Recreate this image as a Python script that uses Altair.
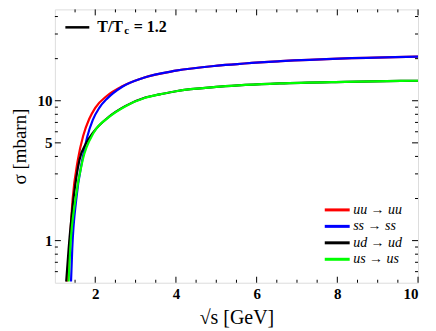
import altair as alt
import pandas as pd

# ---- data ----
processes = ["uu → uu", "ss → ss", "ud → ud", "us → us"]
colors = ["#ff0000", "#0000ff", "#000000", "#00ff00"]

uu_x = [1.30, 1.36, 1.44, 1.57, 1.70, 1.85, 2.0, 2.3, 2.67, 3.2, 4.0, 5.1, 6.6, 8.2, 10.0]
uu_y = [0.51, 0.87, 1.98, 3.79, 5.6, 7.4, 8.9, 10.9, 12.7, 14.6, 16.4, 17.9, 19.2, 20.1, 20.7]

ss_x = [1.40, 1.43, 1.53, 1.68, 1.80, 1.94, 2.1, 2.3, 2.67, 3.2, 4.0, 5.1, 6.6, 8.2, 10.0]
ss_y = [0.51, 0.87, 1.98, 3.79, 5.5, 7.3, 8.9, 10.4, 12.6, 14.6, 16.4, 17.9, 19.2, 20.1, 20.7]

ud_x = [1.28, 1.34, 1.46, 1.61, 1.78, 1.96, 2.33, 2.74, 3.24, 3.6, 4.0, 5.09, 6.57, 8.2, 10.0]
ud_y = [0.51, 0.87, 1.98, 3.79, 5.0, 6.0, 7.65, 9.15, 10.55, 11.1, 11.7, 12.6, 13.3, 13.65, 13.9]

us_x = [1.34, 1.38, 1.51, 1.69, 1.96, 2.33, 2.74, 3.24, 3.6, 4.0, 5.09, 6.57, 8.2, 10.0]
us_y = [0.51, 0.87, 1.98, 3.79, 5.9, 7.6, 9.1, 10.5, 11.1, 11.7, 12.6, 13.3, 13.65, 13.9]

x_major = [2, 4, 6, 8, 10]
x_minor = [1.5, 2.5, 3, 3.5, 4.5, 5, 5.5, 6.5, 7, 7.5, 8.5, 9, 9.5]
y_major = [1, 5, 10]
y_minor = [0.6, 0.7, 0.8, 0.9, 2, 3, 4, 6, 7, 8, 9, 20, 30, 40]

temp_label = ["T/T", "c", "= 1.2"]

# ---- build tables ----
rows = []
for name, xs, ys in zip(processes, [uu_x, ss_x, ud_x, us_x], [uu_y, ss_y, ud_y, us_y]):
    for i, (a, b) in enumerate(zip(xs, ys)):
        rows.append({"s": a, "sigma": b, "proc": name, "idx": i})
df = pd.DataFrame(rows)

W, H = 364, 274
SERIF = "Liberation Serif"

xscale = alt.Scale(domain=[1, 10], nice=False, zero=False)
yscale = alt.Scale(type="log", domain=[0.5, 45], nice=False)
cscale = alt.Scale(domain=processes, range=colors)

xaxis = alt.Axis(values=x_major, ticks=False, domain=False, grid=False,
                 title="√s [GeV]", labelFont=SERIF, labelFontWeight="bold",
                 labelFontSize=15, labelColor="black", labelPadding=4,
                 titleFont=SERIF, titleFontSize=20, titleFontWeight="normal",
                 titleColor="black", titlePadding=6)
yaxis = alt.Axis(values=y_major, ticks=False, domain=False, grid=False,
                 title="σ [mbarn]", labelFont=SERIF, labelFontWeight="bold",
                 labelFontSize=15, labelColor="black", labelPadding=3,
                 titleFont=SERIF, titleFontSize=19, titleFontWeight="normal",
                 titleColor="black", titlePadding=7)

legend = alt.Legend(title=None, orient="none", legendX=275, legendY=193,
                    symbolType="M-2,0L2,0", symbolSize=156, symbolStrokeWidth=3,
                    labelFont=SERIF, labelFontStyle="italic", labelFontSize=14,
                    labelColor="black", rowPadding=1.5, padding=0, labelOffset=8)

base = alt.Chart(df)
layers = []
for name in processes:
    layers.append(
        base.transform_filter(alt.datum.proc == name)
        .mark_line(strokeWidth=2.2, interpolate="monotone", clip=True)
        .encode(
            x=alt.X("s:Q", scale=xscale, axis=xaxis),
            y=alt.Y("sigma:Q", scale=yscale, axis=yaxis),
            color=alt.Color("proc:N", scale=cscale, legend=legend),
            order=alt.Order("idx:Q"),
        )
    )

def xticks(vals, length):
    d = pd.DataFrame({"v": vals})
    bot = alt.Chart(d).mark_rule(color="black", strokeWidth=1).encode(
        x=alt.X("v:Q", scale=xscale), y=alt.value(H), y2=alt.value(H - length))
    top = alt.Chart(d).mark_rule(color="black", strokeWidth=1).encode(
        x=alt.X("v:Q", scale=xscale), y=alt.value(0), y2=alt.value(length))
    return [bot, top]

def yticks(vals, length):
    d = pd.DataFrame({"v": vals})
    left = alt.Chart(d).mark_rule(color="black", strokeWidth=1).encode(
        y=alt.Y("v:Q", scale=yscale), x=alt.value(0), x2=alt.value(length))
    right = alt.Chart(d).mark_rule(color="black", strokeWidth=1).encode(
        y=alt.Y("v:Q", scale=yscale), x=alt.value(W), x2=alt.value(W - length))
    return [left, right]

tick_layers = xticks(x_major, 6) + xticks(x_minor, 3) + yticks(y_major, 6) + yticks(y_minor, 3)

# top-left annotation
ann_df = pd.DataFrame({"t": ["a"]})
ann_line = alt.Chart(ann_df).mark_rule(color="black", strokeWidth=2.5).encode(
    x=alt.value(10.5), x2=alt.value(34.5), y=alt.value(18))
ann_t1 = alt.Chart(ann_df).mark_text(text=temp_label[0], font=SERIF, fontSize=16,
                                     fontWeight="bold", align="left", baseline="middle",
                                     color="black").encode(x=alt.value(42.5), y=alt.value(18))
ann_t2 = alt.Chart(ann_df).mark_text(text=temp_label[1], font=SERIF, fontSize=11,
                                     fontWeight="bold", align="left", baseline="middle",
                                     color="black").encode(x=alt.value(69.5), y=alt.value(22))
ann_t3 = alt.Chart(ann_df).mark_text(text=temp_label[2], font=SERIF, fontSize=16,
                                     fontWeight="bold", align="left", baseline="middle",
                                     color="black").encode(x=alt.value(79), y=alt.value(18))

chart = alt.layer(*layers, *tick_layers, ann_line, ann_t1, ann_t2, ann_t3).properties(
    width=W, height=H,
    autosize=alt.AutoSizeParams(type="none"),
    padding={"left": 47, "top": 1, "right": 10, "bottom": 48},
).configure_view(stroke="black", strokeWidth=1.2).configure(background="white")

chart.save("out.html", embed_options={"renderer": "svg", "actions": False})
